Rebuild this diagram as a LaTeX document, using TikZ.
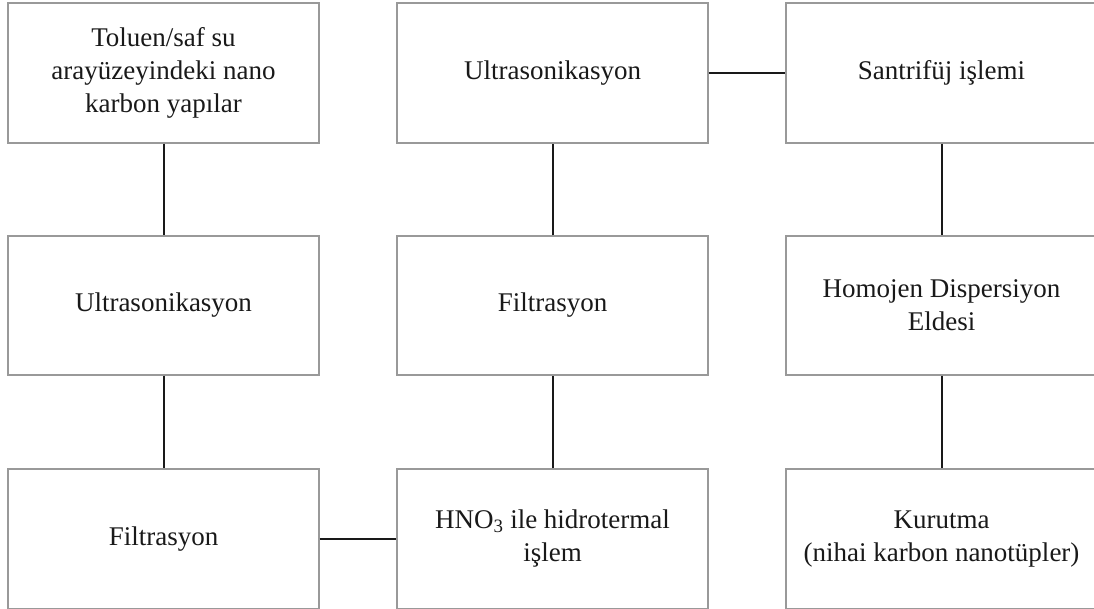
\documentclass[tikz,border=0pt]{standalone}
\usepackage{fontspec}
\setmainfont{Liberation Serif}
\begin{document}
\begin{tikzpicture}[x=1pt,y=1pt,
  stepbox/.style={draw=black!40, line width=1.2pt, minimum width=311pt, inner sep=0pt,
    align=center, font=\fontsize{27}{33}\selectfont, text=black!90},
  link/.style={draw=black!90, line width=2pt}]
  \useasboundingbox (0,0) rectangle (1094,609);
  % row 1
  \node[stepbox, minimum height=140pt] (a1) at (163.5,536) {Toluen/saf su\\arayüzeyindeki nano\\karbon yapılar};
  \node[stepbox, minimum height=140pt] (b1) at (552.5,536) {Ultrasonikasyon};
  \node[stepbox, minimum height=140pt] (c1) at (941.5,536) {Santrifüj işlemi};
  % row 2
  \node[stepbox, minimum height=139pt] (a2) at (163.5,303.5) {Ultrasonikasyon};
  \node[stepbox, minimum height=139pt] (b2) at (552.5,303.5) {Filtrasyon};
  \node[stepbox, minimum height=139pt] (c2) at (941.5,303.5) {Homojen Dispersiyon\\Eldesi};
  % row 3
  \node[stepbox, minimum height=140pt] (a3) at (163.5,70) {Filtrasyon};
  \node[stepbox, minimum height=140pt] (b3) at (552.5,70) {HNO\textsubscript{3} ile hidrotermal\\işlem};
  \node[stepbox, minimum height=140pt] (c3) at (941.5,70) {Kurutma\\(nihai karbon nanotüpler)};
  % connectors
  \draw[link] (a1.south) -- (a2.north);
  \draw[link] (a2.south) -- (a3.north);
  \draw[link] (a3.east) -- (b3.west);
  \draw[link] (b3.north) -- (b2.south);
  \draw[link] (b2.north) -- (b1.south);
  \draw[link] (b1.east) -- (c1.west);
  \draw[link] (c1.south) -- (c2.north);
  \draw[link] (c2.south) -- (c3.north);
\end{tikzpicture}
\end{document}
